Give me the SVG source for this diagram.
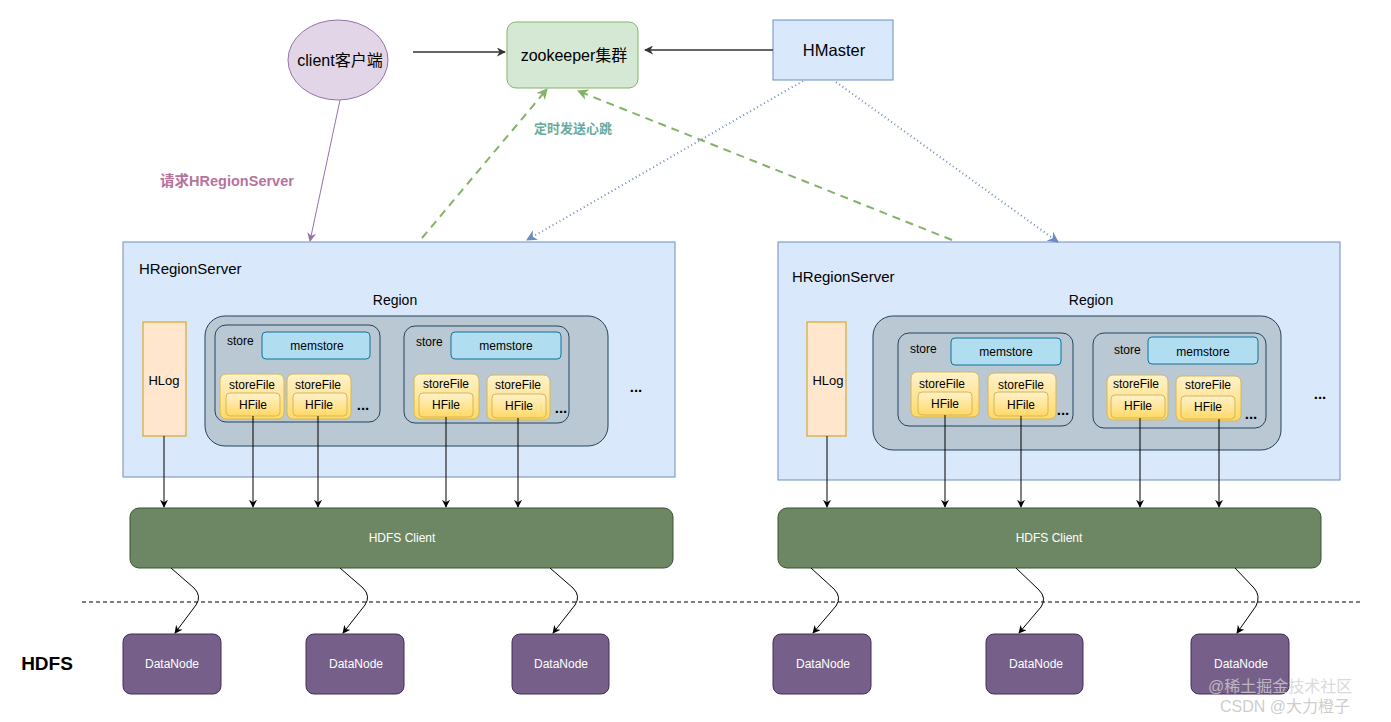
<svg xmlns="http://www.w3.org/2000/svg" width="1391" height="722" viewBox="0 0 1391 722">
<style>
text{font-family:"Liberation Sans",Arial,"Noto Sans CJK SC",sans-serif;fill:#000}
.c{text-anchor:middle;dominant-baseline:central}
.srv{fill:#dae8fc;stroke:#6c8ebf;stroke-width:1}
.reg{fill:#bac8d3;stroke:#23445d;stroke-width:1}
.hlog{fill:#ffe6cc;stroke:#d79b00;stroke-width:1}
.mem{fill:#b1ddf0;stroke:#10739e;stroke-width:1}
.sf{fill:url(#yg);stroke:#d6b656;stroke-width:1}
.hdfs{fill:#6d8764;stroke:#3a5431;stroke-width:1}
.dn{fill:#76608a;stroke:#432d57;stroke-width:1}
.w{fill:#ffffff}
.dots{font-size:15px;font-weight:bold}
.blk{stroke:#000;stroke-width:1;fill:none}
</style>
<defs>
<linearGradient id="yg" x1="0" y1="0" x2="0" y2="1"><stop offset="0" stop-color="#fff2cc"/><stop offset="1" stop-color="#ffd966"/></linearGradient>
<marker id="ak" viewBox="0 0 10 10" refX="9" refY="5" markerWidth="8" markerHeight="8" markerUnits="userSpaceOnUse" orient="auto"><path d="M0,0 L10,5 L0,10 L3,5 z" fill="#000"/></marker>
<marker id="ag" viewBox="0 0 10 10" refX="9" refY="5" markerWidth="9" markerHeight="9" markerUnits="userSpaceOnUse" orient="auto"><path d="M0,0 L10,5 L0,10 L3,5 z" fill="#333"/></marker>
<marker id="ap" viewBox="0 0 10 10" refX="9" refY="5" markerWidth="9" markerHeight="9" markerUnits="userSpaceOnUse" orient="auto"><path d="M0,0 L10,5 L0,10 L3,5 z" fill="#9673a6"/></marker>
<marker id="agr" viewBox="0 0 10 10" refX="9" refY="5" markerWidth="11" markerHeight="11" markerUnits="userSpaceOnUse" orient="auto"><path d="M0,0 L10,5 L0,10 L3,5 z" fill="#82b366"/></marker>
<marker id="ab" viewBox="0 0 10 10" refX="9" refY="5" markerWidth="11" markerHeight="11" markerUnits="userSpaceOnUse" orient="auto"><path d="M0,0 L10,5 L0,10 L3,5 z" fill="#6c8ebf"/></marker>
</defs>
<rect width="1391" height="722" fill="#ffffff"/>

<g id="client"><ellipse cx="338" cy="60" rx="50" ry="40" fill="#e1d5e7" stroke="#9673a6"/><text class="c" x="340" y="60" font-size="16">client客户端</text></g>
<g id="zookeeper"><rect x="507" y="22" width="131" height="66" rx="9" fill="#d5e8d4" stroke="#82b366"/><text class="c" x="574" y="55" font-size="16">zookeeper集群</text></g>
<g id="hmaster"><rect x="773" y="20" width="120" height="60" class="srv"/><text class="c" x="834" y="50" font-size="16.5">HMaster</text></g>

<g id="server1">
<rect x="123" y="242" width="552" height="235" class="srv"/>
<text x="139" y="274" font-size="15">HRegionServer</text>
<text class="c" x="395" y="300" font-size="14">Region</text>
<rect id="hlog1" x="143" y="322" width="43" height="114" class="hlog"/><text class="c" x="164" y="380" font-size="13">HLog</text>
<rect x="205" y="316" width="403" height="130" rx="20" class="reg"/>
<rect x="215" y="325" width="165" height="97" rx="11" class="reg"/>
<text x="227" y="345" font-size="12">store</text>
<rect x="262" y="332" width="108" height="27" rx="4" class="mem"/><text class="c" x="317" y="346" font-size="12">memstore</text>
<rect x="220" y="374" width="64" height="45" rx="6" class="sf"/><text class="c" x="252" y="385" font-size="12">storeFile</text>
<rect x="226" y="393" width="54" height="23" rx="4" class="sf"/><text class="c" x="253" y="405" font-size="12">HFile</text>
<rect x="287" y="374" width="64" height="45" rx="6" class="sf"/><text class="c" x="318" y="385" font-size="12">storeFile</text>
<rect x="293" y="393" width="54" height="23" rx="4" class="sf"/><text class="c" x="319" y="405" font-size="12">HFile</text>
<text class="c dots" x="363" y="404">...</text>
<rect x="404" y="326" width="165" height="97" rx="11" class="reg"/>
<text x="416" y="346" font-size="12">store</text>
<rect x="451" y="332" width="110" height="27" rx="4" class="mem"/><text class="c" x="506" y="346" font-size="12">memstore</text>
<rect x="414" y="374" width="65" height="45" rx="6" class="sf"/><text class="c" x="446" y="384" font-size="12">storeFile</text>
<rect x="419" y="393" width="54" height="24" rx="4" class="sf"/><text class="c" x="446" y="405" font-size="12">HFile</text>
<rect x="487" y="375" width="63" height="45" rx="6" class="sf"/><text class="c" x="518" y="385" font-size="12">storeFile</text>
<rect x="492" y="394" width="54" height="24" rx="4" class="sf"/><text class="c" x="519" y="406" font-size="12">HFile</text>
<text class="c dots" x="561" y="407">...</text>
<text class="c dots" x="636" y="386">...</text>
</g>

<g id="server2">
<rect x="778" y="242" width="562" height="238" class="srv"/>
<text x="792" y="282" font-size="15">HRegionServer</text>
<text class="c" x="1091" y="300" font-size="14">Region</text>
<rect x="807" y="322" width="39" height="114" class="hlog"/><text class="c" x="828" y="380" font-size="13">HLog</text>
<rect x="873" y="316" width="408" height="134" rx="20" class="reg"/>
<rect x="898" y="333" width="175" height="93" rx="11" class="reg"/>
<text x="910" y="353" font-size="12">store</text>
<rect x="951" y="338" width="110" height="27" rx="4" class="mem"/><text class="c" x="1006" y="352" font-size="12">memstore</text>
<rect x="911" y="372" width="68" height="45" rx="6" class="sf"/><text class="c" x="942" y="384" font-size="12">storeFile</text>
<rect x="918" y="392" width="54" height="23" rx="4" class="sf"/><text class="c" x="945" y="404" font-size="12">HFile</text>
<rect x="988" y="373" width="68" height="46" rx="6" class="sf"/><text class="c" x="1021" y="385" font-size="12">storeFile</text>
<rect x="994" y="392" width="54" height="24" rx="4" class="sf"/><text class="c" x="1021" y="405" font-size="12">HFile</text>
<text class="c dots" x="1063" y="409">...</text>
<rect x="1093" y="333" width="173" height="95" rx="11" class="reg"/>
<text x="1114" y="354" font-size="12">store</text>
<rect x="1148" y="337" width="110" height="27" rx="4" class="mem"/><text class="c" x="1203" y="352" font-size="12">memstore</text>
<rect x="1107" y="375" width="61" height="45" rx="6" class="sf"/><text class="c" x="1136" y="384" font-size="12">storeFile</text>
<rect x="1111" y="395" width="54" height="23" rx="4" class="sf"/><text class="c" x="1138" y="406" font-size="12">HFile</text>
<rect x="1176" y="376" width="65" height="45" rx="6" class="sf"/><text class="c" x="1208" y="385" font-size="12">storeFile</text>
<rect x="1181" y="396" width="54" height="23" rx="4" class="sf"/><text class="c" x="1208" y="407" font-size="12">HFile</text>
<text class="c dots" x="1251" y="413">...</text>
<text class="c dots" x="1320" y="393">...</text>
</g>

<g id="hdfsclient1"><rect x="130" y="508" width="543" height="60" rx="9" class="hdfs"/><text class="c w" x="402" y="538" font-size="12">HDFS Client</text></g>
<g id="hdfsclient2"><rect x="778" y="508" width="543" height="60" rx="9" class="hdfs"/><text class="c w" x="1049" y="538" font-size="12">HDFS Client</text></g>

<g id="datanode1"><rect x="123" y="634" width="98" height="60" rx="8" class="dn"/><text class="c w" x="172" y="664" font-size="12">DataNode</text></g>
<g id="datanode2"><rect x="306" y="634" width="98" height="60" rx="8" class="dn"/><text class="c w" x="356" y="664" font-size="12">DataNode</text></g>
<g id="datanode3"><rect x="512" y="634" width="97" height="60" rx="8" class="dn"/><text class="c w" x="561" y="664" font-size="12">DataNode</text></g>
<g id="datanode4"><rect x="773" y="634" width="98" height="60" rx="8" class="dn"/><text class="c w" x="823" y="664" font-size="12">DataNode</text></g>
<g id="datanode5"><rect x="986" y="634" width="97" height="60" rx="8" class="dn"/><text class="c w" x="1036" y="664" font-size="12">DataNode</text></g>
<g id="datanode6"><rect x="1191" y="634" width="98" height="60" rx="8" class="dn"/><text class="c w" x="1241" y="664" font-size="12">DataNode</text></g>

<g id="hdfs-label"><text class="c" x="47" y="663" font-size="19" font-weight="bold">HDFS</text></g>

<g id="connectors">
<line x1="413" y1="52" x2="505" y2="52" stroke="#333" stroke-width="1.5" marker-end="url(#ag)"/>
<line x1="773" y1="50" x2="645" y2="50" stroke="#333" stroke-width="1.5" marker-end="url(#ag)"/>
<line x1="340" y1="100" x2="310" y2="241" stroke="#9673a6" stroke-width="1" marker-end="url(#ap)"/>
<line x1="422" y1="238" x2="547" y2="89" stroke="#82b366" stroke-width="2" stroke-dasharray="8 6" marker-end="url(#agr)"/>
<line x1="952" y1="240" x2="578" y2="91" stroke="#82b366" stroke-width="2" stroke-dasharray="8 6" marker-end="url(#agr)"/>
<line x1="803" y1="81" x2="527" y2="240" stroke="#6c8ebf" stroke-width="2" stroke-dasharray="1 3" marker-end="url(#ab)"/>
<line x1="836" y1="82" x2="1058" y2="242" stroke="#6c8ebf" stroke-width="2" stroke-dasharray="1 3" marker-end="url(#ab)"/>
<path class="blk" d="M164,436 V507" marker-end="url(#ak)"/>
<path class="blk" d="M253,416 V507" marker-end="url(#ak)"/>
<path class="blk" d="M318,416 V507" marker-end="url(#ak)"/>
<path class="blk" d="M446,417 V507" marker-end="url(#ak)"/>
<path class="blk" d="M518,418 V507" marker-end="url(#ak)"/>
<path class="blk" d="M827,436 V507" marker-end="url(#ak)"/>
<path class="blk" d="M945,415 V507" marker-end="url(#ak)"/>
<path class="blk" d="M1021,416 V507" marker-end="url(#ak)"/>
<path class="blk" d="M1140,418 V507" marker-end="url(#ak)"/>
<path class="blk" d="M1219,419 V507" marker-end="url(#ak)"/>
<path class="blk" d="M171,568 L194,588 Q202,596 196,605 L175,633" marker-end="url(#ak)"/>
<path class="blk" d="M340,568 L363,588 Q371,596 365,605 L343,633" marker-end="url(#ak)"/>
<path class="blk" d="M550,568 L573,588 Q581,596 575,605 L553,633" marker-end="url(#ak)"/>
<path class="blk" d="M811,568 L834,589 Q842,597 836,606 L813,633" marker-end="url(#ak)"/>
<path class="blk" d="M1016,568 L1039,590 Q1047,598 1041,607 L1019,633" marker-end="url(#ak)"/>
<path class="blk" d="M1235,568 L1254,588 Q1261,596 1256,606 L1237,633" marker-end="url(#ak)"/>
<line x1="82" y1="602" x2="1362" y2="602" stroke="#000" stroke-width="1" stroke-dasharray="4 3"/>
<text class="c" x="227" y="181" font-size="14.5" font-weight="bold" style="fill:#b5739d">请求HRegionServer</text>
<text class="c" x="573" y="128" font-size="13" font-weight="bold" style="fill:#67ab9f">定时发送心跳</text>
</g>

<g id="watermark">
<text x="1208" y="692" font-size="16" style="fill:#d0d0d0;fill-opacity:0.8">@稀土掘金技术社区</text>
<text x="1220" y="712" font-size="16" style="fill:#c0c0c0;fill-opacity:0.8">CSDN @大力橙子</text>
</g>
</svg>
